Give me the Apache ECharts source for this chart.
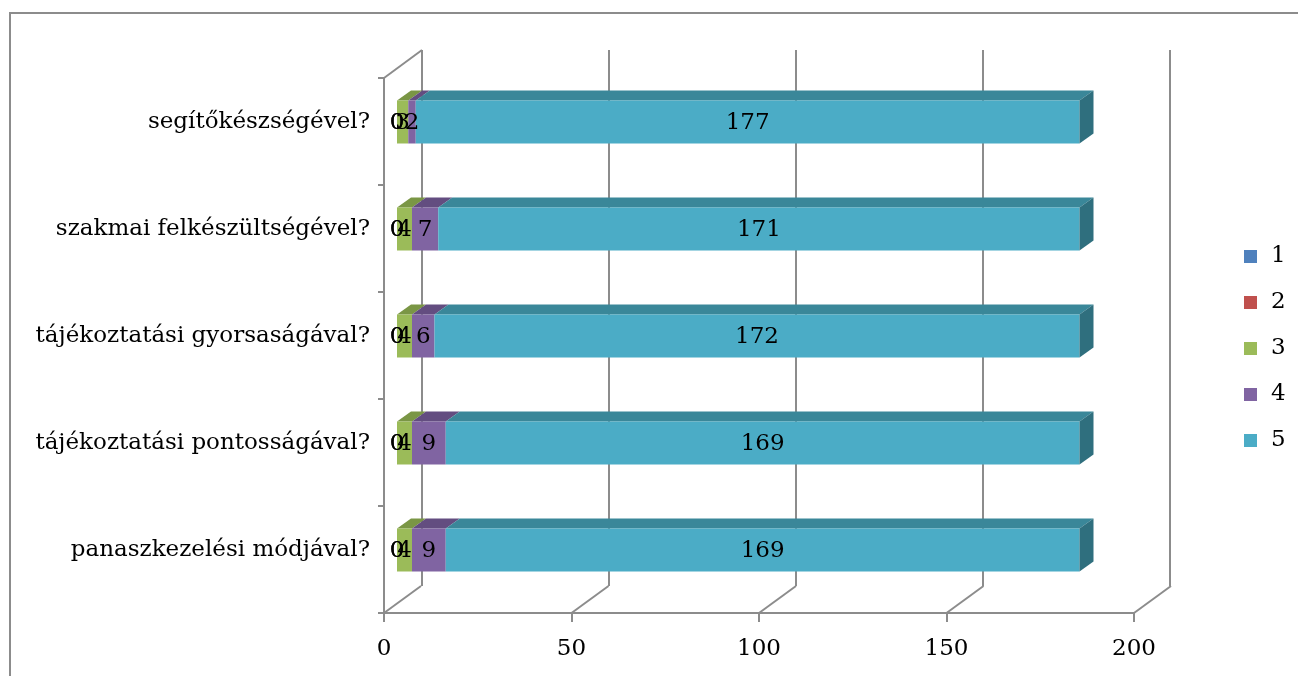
<!DOCTYPE html>
<html>
<head>
<meta charset="utf-8">
<script src="https://cdn.jsdelivr.net/npm/echarts@6/dist/echarts.min.js"></script>
<style>
  html, body { margin: 0; padding: 0; background: #fff; }
  #chart { width: 1298px; height: 676px; }
</style>
</head>
<body>
<div id="chart"></div>
<script>
// categories, bottom to top
const categories = ['panaszkezelési módjával?', 'tájékoztatási pontosságával?', 'tájékoztatási gyorsaságával?', 'szakmai felkészültségével?', 'segítőkészségével?'];
const seriesNames = ['1', '2', '3', '4', '5'];
const values1 = [0, 0, 0, 0, 0];
const values2 = [0, 0, 0, 0, 0];
const values3 = [4, 4, 4, 4, 3];
const values4 = [9, 9, 6, 7, 2];
const values5 = [169, 169, 172, 171, 177];
const xTicks = [0, 50, 100, 150, 200];

const colors = ['#4F81BD', '#C0504D', '#9BBB59', '#8064A2', '#4BACC6'];
const topColors = ['#3d6794', '#974040', '#7a9645', '#634d80', '#3a8799'];
const sideColor = '#2f6f7e';
const gridColor = '#8c8c8c';
const font = 'DejaVu Serif';
const fontSize = 23;

const allValues = [values1, values2, values3, values4, values5];

// stacked segments [cat, start, end, value]
function segments(si) {
    return categories.map((c, ci) => {
        let start = 0;
        for (let k = 0; k < si; k++) start += allValues[k][ci];
        return [ci, start, start + allValues[si][ci], allValues[si][ci]];
    });
}

// bar plane offset from front plane, bar depth
const barDx = 13, barDy = -9.5, depthX = 14, depthY = -10, barH = 43;

function makeBarRender(si) {
    return function (params, api) {
        const cat = api.value(0), start = api.value(1), end = api.value(2), val = api.value(3);
        const p0 = api.coord([start, cat]);
        const p1 = api.coord([end, cat]);
        const x0 = p0[0] + barDx, x1 = p1[0] + barDx;
        const yc = p0[1] + barDy;
        const top = yc - barH / 2;
        const children = [];
        if (x1 > x0) {
            children.push({
                type: 'polygon',
                shape: { points: [[x0, top], [x1, top], [x1 + depthX, top + depthY], [x0 + depthX, top + depthY]] },
                style: { fill: topColors[si] }
            });
            children.push({
                type: 'rect',
                shape: { x: x0, y: top, width: x1 - x0, height: barH },
                style: { fill: colors[si] }
            });
            if (si === seriesNames.length - 1) {
                children.push({
                    type: 'polygon',
                    shape: { points: [[x1, top], [x1 + depthX, top + depthY], [x1 + depthX, top + depthY + barH], [x1, top + barH]] },
                    style: { fill: sideColor }
                });
            }
        }
        children.push({
            type: 'text',
            z2: 100,
            style: {
                x: (x0 + x1) / 2, y: yc + 1, text: String(val),
                align: 'center', verticalAlign: 'middle',
                fontFamily: font, fontSize: fontSize, fill: '#000'
            }
        });
        return { type: 'group', children: children };
    };
}

// floor diagonals and left wall top edge
function renderWalls(params, api) {
    const cs = params.coordSys;
    const x = api.coord([api.value(0), 0])[0];
    const bottom = cs.y + cs.height;
    const children = [{
        type: 'line',
        shape: { x1: x, y1: bottom, x2: x + 37, y2: bottom - 27 },
        style: { stroke: gridColor, lineWidth: 2 }
    }];
    if (params.dataIndex === 0) {
        children.push({
            type: 'line',
            shape: { x1: x, y1: cs.y, x2: x + 38, y2: cs.y - 28 },
            style: { stroke: gridColor, lineWidth: 2 }
        });
    }
    return { type: 'group', children: children };
}

const chart = echarts.init(document.getElementById('chart'));

const series = [{
    type: 'custom',
    name: 'walls',
    xAxisIndex: 0, yAxisIndex: 0,
    renderItem: renderWalls,
    data: xTicks.map(v => [v]),
    silent: true,
    z: 1
}];
seriesNames.forEach((n, si) => {
    series.push({
        type: 'custom',
        name: n,
        xAxisIndex: 0, yAxisIndex: 0,
        itemStyle: { color: colors[si] },
        renderItem: makeBarRender(si),
        encode: { x: [1, 2], y: 0 },
        data: segments(si),
        z: 3
    });
});

const hiddenAxis = {
    axisLine: { show: false }, axisTick: { show: false }, axisLabel: { show: false }, splitLine: { show: false }
};

chart.setOption({
    animation: false,
    graphic: [{
        type: 'rect',
        shape: { x: 10, y: 13, width: 1400, height: 800 },
        style: { fill: 'none', stroke: gridColor, lineWidth: 2 },
        silent: true
    }],
    legend: {
        data: seriesNames,
        orient: 'vertical',
        left: 1239,
        top: 240,
        icon: 'rect',
        itemWidth: 13,
        itemHeight: 13,
        itemGap: 23,
        textStyle: { fontFamily: font, fontSize: fontSize, color: '#000', padding: [0, 0, 0, 9] }
    },
    grid: [
        { left: 384, top: 78, width: 750, height: 535 },
        { left: 422, top: 50, width: 748, height: 536 },
        // bar plane, only used for the category labels
        { left: 397, top: 68.5, width: 750, height: 535 }
    ],
    xAxis: [{
        gridIndex: 0,
        type: 'value', min: 0, max: 200, interval: 50,
        axisLine: { show: true, lineStyle: { color: gridColor, width: 2 } },
        axisTick: { show: true, length: 9, lineStyle: { color: gridColor, width: 2 } },
        axisLabel: { color: '#000', fontFamily: font, fontSize: fontSize, margin: 25 },
        splitLine: { show: false }
    }, Object.assign({
        gridIndex: 1,
        type: 'value', min: 0, max: 200, interval: 50
    }, hiddenAxis, {
        splitLine: { show: true, showMinLine: true, showMaxLine: true, lineStyle: { color: gridColor, width: 2 } }
    }), Object.assign({
        gridIndex: 2, type: 'value', min: 0, max: 200
    }, hiddenAxis)],
    yAxis: [{
        gridIndex: 0,
        type: 'category', data: categories,
        axisLine: { show: true, lineStyle: { color: gridColor, width: 2 } },
        axisTick: { show: true, length: 6, lineStyle: { color: gridColor, width: 2 } },
        axisLabel: { show: false },
        splitLine: { show: false }
    }, Object.assign({
        gridIndex: 1, type: 'category', data: categories
    }, hiddenAxis), Object.assign({
        gridIndex: 2, type: 'category', data: categories
    }, hiddenAxis, {
        axisLabel: { show: true, color: '#000', fontFamily: font, fontSize: fontSize, margin: 27 }
    })],
    series: series
});
</script>
</body>
</html>
